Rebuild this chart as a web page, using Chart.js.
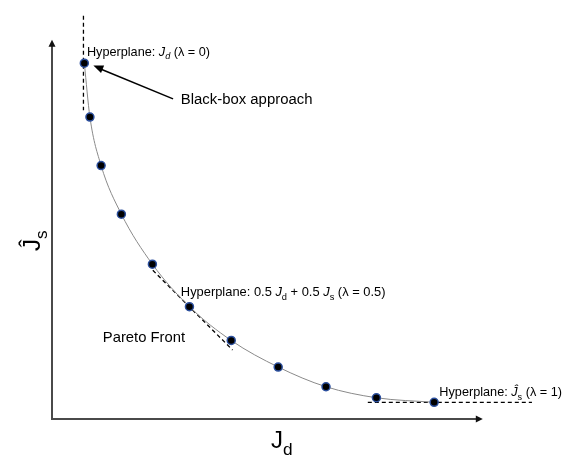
<!DOCTYPE html>
<html>
<head>
<meta charset="utf-8">
<script src="https://cdn.jsdelivr.net/npm/chart.js@4.4.0/dist/chart.umd.min.js"></script>
<style>
  html, body { margin: 0; padding: 0; background: #fff; }
</style>
</head>
<body>
<canvas id="chart" width="581" height="459"></canvas>
<script>
// Pareto front points (Jd, Js)
const frontX = [0.75, 0.88, 1.14, 1.61, 2.33, 3.19, 4.16, 5.25, 6.36, 7.53, 8.87];
const frontY = [9.38, 7.96, 6.68, 5.40, 4.08, 2.96, 2.07, 1.37, 0.85, 0.56, 0.44];

// hyperplane segments (dashed)
const plane0X = [0.73, 0.73];
const plane0Y = [10.63, 8.14];
const planeHalfX = [2.34, 4.19];
const planeHalfY = [3.92, 1.82];
const plane1X = [7.33, 11.14];
const plane1Y = [0.44, 0.44];

const toPts = (xs, ys) => xs.map((x, i) => ({ x: x, y: ys[i] }));

const FONT = '"Liberation Sans", Arial, sans-serif';

// draws text runs, some italic / subscript
function richText(ctx, x, y, runs, size) {
  let cx = x;
  runs.forEach(r => {
    const s = r.sub ? size * 0.72 : size;
    ctx.font = (r.it ? 'italic ' : '') + s + 'px ' + FONT;
    ctx.fillText(r.t, cx, y + (r.sub ? size * 0.28 : 0));
    cx += ctx.measureText(r.t).width;
  });
}

function arrowHead(ctx, x0, y0, x1, y1, len, wid) {
  const a = Math.atan2(y1 - y0, x1 - x0);
  ctx.beginPath();
  ctx.moveTo(x1, y1);
  ctx.lineTo(x1 - len * Math.cos(a) + wid * Math.sin(a), y1 - len * Math.sin(a) - wid * Math.cos(a));
  ctx.lineTo(x1 - len * Math.cos(a) - wid * Math.sin(a), y1 - len * Math.sin(a) + wid * Math.cos(a));
  ctx.closePath();
  ctx.fill();
}

const decorations = {
  id: 'decorations',
  beforeDatasetsDraw(chart) {
    const ctx = chart.ctx;
    const xs = chart.scales.x, ys = chart.scales.y;
    const ox = xs.getPixelForValue(0), oy = ys.getPixelForValue(0);
    const ex = xs.getPixelForValue(10), ey = ys.getPixelForValue(10);
    ctx.save();
    ctx.strokeStyle = '#4a4a4a';
    ctx.fillStyle = '#111';
    ctx.lineWidth = 2;
    ctx.beginPath();
    ctx.moveTo(ox, ey + 5);
    ctx.lineTo(ox, oy);
    ctx.lineTo(ex - 5, oy);
    ctx.stroke();
    arrowHead(ctx, ox, oy, ox, ey, 7, 3.5);
    arrowHead(ctx, ox, oy, ex, oy, 7, 3.5);
    ctx.restore();
  },
  afterDatasetsDraw(chart) {
    const ctx = chart.ctx;
    const xs = chart.scales.x, ys = chart.scales.y;
    const px = v => xs.getPixelForValue(v), py = v => ys.getPixelForValue(v);
    ctx.save();
    ctx.fillStyle = '#000';
    ctx.strokeStyle = '#000';
    ctx.textBaseline = 'alphabetic';

    richText(ctx, px(0.81), py(9.69) + 4.5, [
      { t: 'Hyperplane: ' }, { t: 'J', it: true }, { t: 'd', it: true, sub: true }, { t: ' (λ = 0)' }
    ], 12.7);

    richText(ctx, px(2.99), py(8.44) + 5.5, [{ t: 'Black-box approach' }], 14.9);

    // arrow to the black-box point
    const ax0 = px(2.81), ay0 = py(8.44), ax1 = px(0.96), ay1 = py(9.32);
    ctx.lineWidth = 1.5;
    ctx.beginPath();
    ctx.moveTo(ax0, ay0);
    ctx.lineTo(ax1 + 6, ay1 + 3);
    ctx.stroke();
    arrowHead(ctx, ax0, ay0, ax1, ay1, 10, 4);

    richText(ctx, px(2.99), py(3.36) + 4.5, [
      { t: 'Hyperplane: 0.5 ' }, { t: 'J', it: true }, { t: 'd', sub: true },
      { t: ' + 0.5 ' }, { t: 'J', it: true }, { t: 's', sub: true }, { t: ' (λ = 0.5)' }
    ], 12.9);

    richText(ctx, px(1.18), py(2.17) + 5.5, [{ t: 'Pareto Front' }], 14.8);

    richText(ctx, px(8.99), py(0.715) + 4.5, [
      { t: 'Hyperplane: ' }, { t: 'Ĵ', it: true }, { t: 's', sub: true }, { t: ' (λ = 1)' }
    ], 12.7);

    // axis titles
    richText(ctx, 271, 448, [{ t: 'J' }, { t: 'd', sub: true }], 24);
    ctx.translate(40, 251);
    ctx.rotate(-Math.PI / 2);
    richText(ctx, 0, 0, [{ t: 'Ĵ' }, { t: 's', sub: true }], 24);
    ctx.restore();
  }
};

new Chart(document.getElementById('chart'), {
  type: 'scatter',
  data: {
    datasets: [
      {
        label: 'points',
        data: toPts(frontX, frontY),
        pointRadius: 4,
        pointBackgroundColor: '#000',
        pointBorderColor: '#2b4f9e',
        pointBorderWidth: 1.5,
        showLine: false
      },
      {
        label: 'front',
        data: toPts(frontX, frontY),
        showLine: true,
        borderColor: '#8a8a8a',
        borderWidth: 1,
        pointRadius: 0,
        cubicInterpolationMode: 'monotone'
      },
      {
        label: 'lambda 0',
        data: toPts(plane0X, plane0Y),
        showLine: true,
        borderColor: '#000',
        borderWidth: 1.3,
        borderDash: [4, 3],
        pointRadius: 0
      },
      {
        label: 'lambda 0.5',
        data: toPts(planeHalfX, planeHalfY),
        showLine: true,
        borderColor: '#000',
        borderWidth: 1.3,
        borderDash: [4, 3],
        pointRadius: 0
      },
      {
        label: 'lambda 1',
        data: toPts(plane1X, plane1Y),
        showLine: true,
        borderColor: '#000',
        borderWidth: 1.3,
        borderDash: [4, 3],
        pointRadius: 0
      }
    ]
  },
  options: {
    responsive: false,
    devicePixelRatio: 1,
    animation: false,
    layout: { padding: { left: 52, right: 12, top: 3, bottom: 40 } },
    scales: {
      x: { type: 'linear', min: 0, max: 12, display: false },
      y: { type: 'linear', min: 0, max: 10.9, display: false }
    },
    plugins: {
      legend: { display: false },
      tooltip: { enabled: false }
    }
  },
  plugins: [decorations]
});
</script>
</body>
</html>
